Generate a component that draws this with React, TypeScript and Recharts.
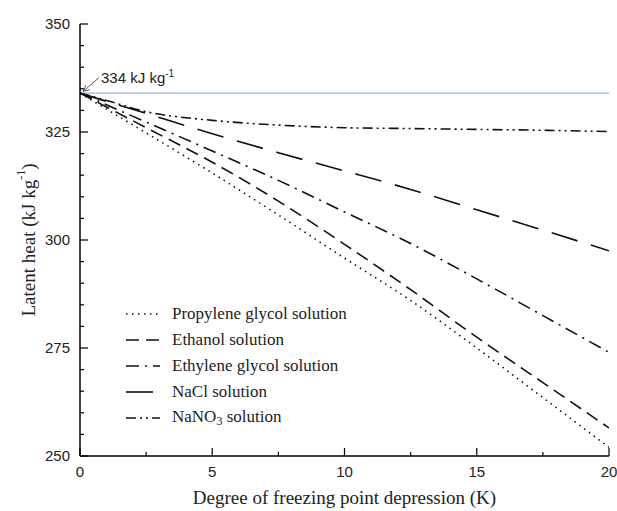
import { CartesianGrid, Label, Line, LineChart, ReferenceLine, XAxis, YAxis } from 'recharts'

// degree of freezing point depression (K)
const depression = [0, 1, 2.5, 5, 7.5, 10, 12.5, 15, 17.5, 20]
// latent heat (kJ/kg)
const propyleneGlycol = [334, 330.3, 324.8, 315.5, 305.8, 295.8, 286, 275, 263.5, 252]
const ethanol = [334, 330.8, 326, 318, 309, 299, 288.5, 277.5, 267, 256.5]
const ethyleneGlycol = [334, 331.3, 327.3, 320.6, 313.8, 306.5, 299.2, 291, 282.5, 274]
const nacl = [334, 332.1, 329.3, 324.6, 320.2, 316, 311.7, 307, 302.3, 297.5]
const nano3 = [334, 332.3, 329.7, 327.7, 326.6, 326, 325.8, 325.6, 325.4, 325.1]

const pureIce = 334
const xTicks = [0, 2.5, 5, 7.5, 10, 12.5, 15, 17.5, 20]
const yTicks = [250, 255, 260, 265, 270, 275, 280, 285, 290, 295, 300, 305, 310, 315, 320, 325, 330, 335, 340, 345, 350]

const data = depression.map((x, i) => ({
  x,
  propylene: propyleneGlycol[i],
  ethanol: ethanol[i],
  ethylene: ethyleneGlycol[i],
  nacl: nacl[i],
  nano3: nano3[i],
}))

const series = [
  { key: 'propylene', name: 'Propylene glycol solution', dash: '1.5 4.5' },
  { key: 'ethanol', name: 'Ethanol solution', dash: '13 7' },
  { key: 'ethylene', name: 'Ethylene glycol solution', dash: '13 6 2 6' },
  { key: 'nacl', name: 'NaCl solution', dash: '27 14' },
  { key: 'nano3', name: 'NaNO3 solution', dash: '10 4 2 4 2 4' },
]

const SERIF = '"Liberation Serif", "Times New Roman", serif'
const SANS = '"Liberation Sans", Arial, sans-serif'
const MARGIN = 10

const isMajorX = (v: number) => v % 5 === 0
const isMajorY = (v: number) => v % 25 === 0

function BottomTick(props: any) {
  const { x, y, payload } = props
  const major = isMajorX(payload.value)
  const axisY = y - MARGIN
  return (
    <g>
      <line x1={x} x2={x} y1={axisY} y2={axisY - (major ? 8 : 4)} stroke="#000" strokeWidth={1.2} />
      {major && (
        <text x={x} y={y} dy="0.71em" textAnchor="middle" fontFamily={SANS} fontSize={15} fill="#222">
          {payload.value}
        </text>
      )}
    </g>
  )
}

function LeftTick(props: any) {
  const { x, y, payload } = props
  const major = isMajorY(payload.value)
  const axisX = x + MARGIN
  return (
    <g>
      <line x1={axisX} x2={axisX + (major ? 8 : 4)} y1={y} y2={y} stroke="#000" strokeWidth={1.2} />
      {major && (
        <text x={x} y={y} dy="0.35em" textAnchor="end" fontFamily={SANS} fontSize={15} fill="#222">
          {payload.value}
        </text>
      )}
    </g>
  )
}

function TopTick(props: any) {
  const { x, y, payload } = props
  const len = isMajorX(payload.value) ? 8 : 4
  return <line x1={x} x2={x} y1={y} y2={y + len} stroke="#000" strokeWidth={1.2} />
}

function RightTick(props: any) {
  const { x, y, payload } = props
  const len = isMajorY(payload.value) ? 8 : 4
  return <line x1={x} x2={x - len} y1={y} y2={y} stroke="#000" strokeWidth={1.2} />
}

function Arrow(props: any) {
  const { x1, y1, x2, y2 } = props
  const ang = Math.atan2(y1 - y2, x1 - x2)
  const head = 7
  const a1 = ang + 0.45
  const a2 = ang - 0.45
  return (
    <g>
      <line x1={x1} y1={y1} x2={x2} y2={y2} stroke="#333" strokeWidth={0.8} />
      <polyline
        points={`${x2 + head * Math.cos(a1)},${y2 + head * Math.sin(a1)} ${x2},${y2} ${x2 + head * Math.cos(a2)},${y2 + head * Math.sin(a2)}`}
        fill="none"
        stroke="#333"
        strokeWidth={0.8}
      />
      <text x={x1 + 2} y={y1 + 5} fontFamily={SANS} fontSize={15} fill="#222">
        {pureIce} kJ kg<tspan dy={-6} fontSize={10}>-1</tspan>
      </text>
    </g>
  )
}

function YTitle(props: any) {
  const { viewBox } = props
  const cx = viewBox.x + 8
  const cy = viewBox.y + viewBox.height / 2
  return (
    <text x={cx} y={cy} transform={`rotate(-90 ${cx} ${cy})`} textAnchor="middle" dominantBaseline="central" fontFamily={SERIF} fontSize={19} fill="#222">
      Latent heat (kJ kg<tspan dy={-7} fontSize={12}>-1</tspan><tspan dy={7}>)</tspan>
    </text>
  )
}

function XTitle(props: any) {
  const { viewBox } = props
  return (
    <text x={viewBox.x + viewBox.width / 2} y={viewBox.y + 41} textAnchor="middle" dominantBaseline="central" fontFamily={SERIF} fontSize={19} fill="#222">
      Degree of freezing point depression (K)
    </text>
  )
}

function LegendBox() {
  return (
    <div style={{ position: 'absolute', left: 0, top: 0 }}>
      {series.map((s, i) => (
        <div key={s.key} style={{ position: 'absolute', left: 126, top: 314 + i * 26 - 11, height: 22, display: 'flex', alignItems: 'center', whiteSpace: 'nowrap' }}>
          <svg width={34} height={6} style={{ display: 'block' }}>
            <line x1={0} x2={34} y1={3} y2={3} stroke="#111" strokeWidth={1.6} strokeDasharray={s.dash} />
          </svg>
          <span style={{ marginLeft: 12, fontFamily: SERIF, fontSize: 17, color: '#222' }}>
            {s.key === 'nano3' ? (
              <>
                NaNO<sub style={{ fontSize: 12, verticalAlign: '-3px' }}>3</sub> solution
              </>
            ) : (
              s.name
            )}
          </span>
        </div>
      ))}
    </div>
  )
}

export default function App() {
  return (
    <div style={{ position: 'absolute', left: 0, top: 0, width: 617, height: 511, background: '#fff' }}>
      <LineChart width={617} height={511} data={data} margin={{ top: 24, right: 8, bottom: 25, left: 20 }}>
        <CartesianGrid stroke="none" />
        <XAxis
          dataKey="x"
          type="number"
          domain={[0, 20]}
          ticks={xTicks}
          interval={0}
          height={30}
          tickSize={0}
          tickMargin={MARGIN}
          tick={<BottomTick />}
          axisLine={{ stroke: '#000', strokeWidth: 1.5 }}
          allowDataOverflow
        >
          <Label content={<XTitle />} />
        </XAxis>
        <XAxis
          xAxisId="top"
          orientation="top"
          dataKey="x"
          type="number"
          domain={[0, 20]}
          ticks={xTicks}
          interval={0}
          height={0}
          tickSize={0}
          tickMargin={0}
          tick={<TopTick />}
          axisLine={{ stroke: '#000', strokeWidth: 1.5 }}
          allowDataOverflow
        />
        <YAxis
          type="number"
          domain={[250, 350]}
          ticks={yTicks}
          interval={0}
          width={60}
          tickSize={0}
          tickMargin={MARGIN}
          tick={<LeftTick />}
          axisLine={{ stroke: '#000', strokeWidth: 1.5 }}
          allowDataOverflow
        >
          <Label content={<YTitle />} />
        </YAxis>
        <YAxis
          yAxisId="right"
          orientation="right"
          type="number"
          domain={[250, 350]}
          ticks={yTicks}
          interval={0}
          width={0}
          tickSize={0}
          tickMargin={0}
          tick={<RightTick />}
          axisLine={{ stroke: '#000', strokeWidth: 1.5 }}
          allowDataOverflow
        />
        <ReferenceLine y={pureIce} stroke="#79a3d9" strokeWidth={1} />
        <ReferenceLine
          segment={[
            { x: 0.72, y: 337.6 },
            { x: 0.12, y: 334.4 },
          ]}
          shape={<Arrow />}
        />
        {series.map((s) => (
          <Line
            key={s.key}
            type="monotone"
            dataKey={s.key}
            name={s.name}
            stroke="#111"
            strokeWidth={1.6}
            strokeDasharray={s.dash}
            dot={false}
            activeDot={false}
            isAnimationActive={false}
          />
        ))}
        <Line
          xAxisId="top"
          yAxisId="right"
          dataKey="nacl"
          stroke="none"
          dot={false}
          activeDot={false}
          legendType="none"
          isAnimationActive={false}
        />
      </LineChart>
      <LegendBox />
    </div>
  )
}
